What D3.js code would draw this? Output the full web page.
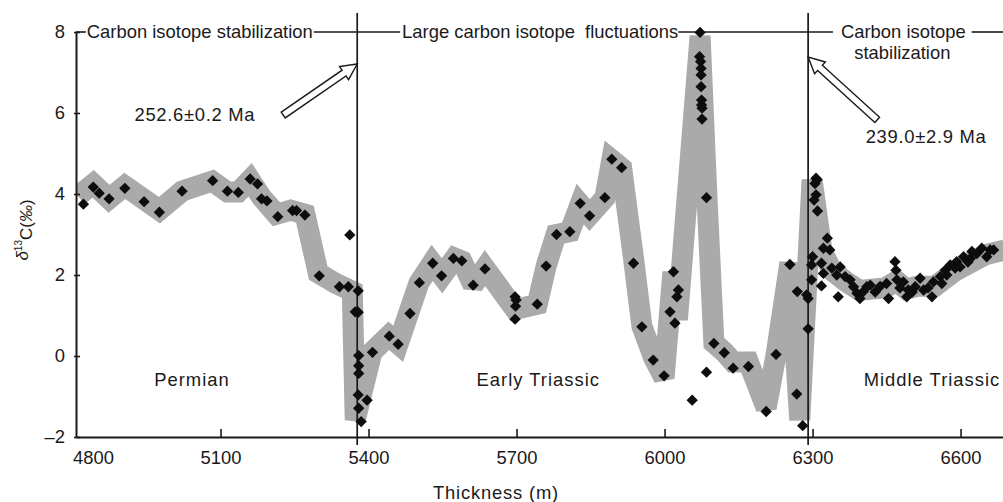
<!DOCTYPE html>
<html>
<head>
<meta charset="utf-8">
<script src="https://cdn.jsdelivr.net/npm/d3@7"></script>
<style>
body { margin: 0; background: #fff; }
svg { display: block; font-family: "Liberation Sans", Arial, sans-serif; }
</style>
</head>
<body>
<svg></svg>
<script>
var WIDTH = 1003;
var HEIGHT = 502;

// sample points: thickness (m) and d13C (permil)
var sampleDepth = [
    4822, 4842, 4854, 4874, 4906, 4945, 4976, 5022, 5084, 5114, 5136, 5160, 5175, 5183, 5194,
    5216, 5246, 5254, 5271, 5300, 5341, 5359, 5362, 5379, 5373, 5379, 5380, 5380, 5380, 5379,
    5397, 5380, 5385,
    5408, 5442, 5460, 5484, 5503, 5530, 5548, 5572, 5589, 5612, 5636, 5697, 5699, 5698, 5697,
    5742, 5760, 5781, 5808, 5829, 5848, 5879, 5893, 5913, 5937, 5954, 5977, 5999, 6011, 6018,
    6025, 6028, 6021, 6056, 6072, 6071, 6073, 6074, 6074, 6074, 6075, 6075, 6076, 6076, 6085,
    6085, 6100, 6121, 6139, 6170, 6206, 6226, 6254, 6269, 6268, 6280,
    6291, 6288, 6307, 6309, 6305, 6307, 6303, 6310, 6330, 6335, 6322, 6300, 6298, 6291, 6298,
    6318, 6322, 6318, 6339, 6349, 6356, 6352, 6366, 6376, 6383, 6390, 6396, 6403, 6410, 6417,
    6427, 6437, 6450, 6454, 6467, 6469, 6471, 6477, 6484, 6494, 6491, 6502, 6508, 6518, 6525,
    6534, 6542, 6545, 6559, 6562, 6569, 6572, 6579, 6589, 6592, 6599, 6606, 6615, 6620, 6623,
    6633, 6643, 6653, 6660, 6667
];
var sampleValue = [
    3.75, 4.17, 4.02, 3.88, 4.14, 3.81, 3.55, 4.07, 4.33, 4.07, 4.04, 4.37, 4.25, 3.88, 3.83,
    3.44, 3.59, 3.59, 3.48, 1.98, 1.71, 1.71, 2.99, 1.61, 1.09, 1.08, 0.01, -0.24, -0.43, -0.96,
    -1.09, -1.29, -1.62,
    0.09, 0.49, 0.29, 1.05, 1.81, 2.29, 1.98, 2.41, 2.35, 1.75, 2.15, 1.46, 1.38, 1.23, 0.91,
    1.28, 2.22, 3.00, 3.07, 3.77, 3.46, 3.91, 4.86, 4.65, 2.29, 0.72, -0.10, -0.49, 1.09, 2.08,
    1.46, 1.63, 0.81, -1.09, 7.99, 7.39, 7.27, 7.10, 6.94, 6.65, 6.32, 6.20, 6.12, 5.85, 3.91,
    -0.40, 0.31, 0.08, -0.30, -0.26, -1.37, 0.04, 2.26, 1.59, -0.94, -1.72,
    0.67, 1.51, 4.39, 4.35, 4.26, 3.98, 3.85, 3.58, 2.91, 2.62, 2.66, 2.45, 2.25, 1.42, 1.88,
    2.29, 2.04, 1.73, 2.17, 2.00, 2.20, 1.46, 1.96, 1.88, 1.71, 1.55, 1.42, 1.59, 1.71, 1.75,
    1.58, 1.72, 1.79, 1.42, 2.33, 2.12, 1.88, 1.68, 1.83, 1.63, 1.46, 1.58, 1.71, 1.92, 1.63,
    1.68, 1.46, 1.83, 1.96, 1.79, 2.12, 2.00, 2.25, 2.17, 2.33, 2.20, 2.45, 2.32, 2.41, 2.58,
    2.53, 2.66, 2.45, 2.62, 2.62
];

// trend band (centre line of the grey envelope)
var bandDepth = [
    4811, 4842, 4874, 4906, 4976, 5022, 5083, 5114, 5136, 5160, 5183, 5213, 5242, 5271, 5298,
    5332, 5367, 5373, 5407, 5441, 5460, 5502, 5529, 5549, 5575, 5589, 5612, 5636, 5697, 5742,
    5760, 5780, 5808, 5829, 5848, 5879, 5893, 5913, 5938, 5954, 5978, 5999, 6017, 6026, 6072,
    6086, 6100, 6121, 6139, 6170, 6206, 6226, 6254, 6274, 6299, 6319, 6340, 6366, 6395, 6420,
    6447, 6470, 6490, 6512, 6548, 6589, 6650, 6690
];
var bandValue = [
    3.95, 4.25, 3.88, 4.20, 3.60, 4.07, 4.32, 4.05, 4.05, 4.35, 3.92, 3.50, 3.60, 3.50, 2.05,
    1.80, 1.60, -1.58, 0.10, 0.50, 0.30, 1.80, 2.30, 1.98, 2.42, 2.35, 1.75, 2.17, 1.15, 1.28,
    2.22, 3.00, 3.07, 3.75, 3.48, 3.90, 4.84, 4.64, 2.32, 0.74, -0.05, -0.54, 2.07, 0.90, 7.90,
    3.90, 0.32, 0.10, -0.15, -0.15, -1.28, 0.03, 2.30, -1.58, 4.35, 2.60, 2.10, 1.85, 1.62, 1.65,
    1.68, 1.85, 1.65, 1.72, 1.72, 2.10, 2.50, 2.62
];

var xTicks = [4800, 5100, 5400, 5700, 6000, 6300, 6600];
var yTicks = [-2, 0, 2, 4, 6, 8];

var boundaryDepth = [5377, 6291];
var zoneNames = ['Permian', 'Early Triassic', 'Middle Triassic'];
var zoneDepth = [5042, 5744, 6542];
var zoneValue = -0.57;

var ageLabels = ['252.6\u00b10.2 Ma', '239.0\u00b12.9 Ma'];
var ageDepth = [5048, 6530];
var ageValue = [5.95, 5.41];
var arrowTailDepth = [5227, 6431];
var arrowTailValue = [5.95, 5.83];
var arrowTipValue = [7.21, 7.38];

var xScale = d3.scaleLinear().domain([4807, 6686]).range([76, 1003]);
var yScale = d3.scaleLinear().domain([-2, 8]).range([437, 32]);

var svg = d3.select('svg')
    .attr('width', WIDTH)
    .attr('height', HEIGHT);

var ink = '#1a1a1a';

svg.append('clipPath').attr('id', 'plot-clip')
    .append('rect')
    .attr('x', xScale(4807))
    .attr('y', 0)
    .attr('width', WIDTH - xScale(4807))
    .attr('height', yScale(-2));

// grey envelope
var bandPoints = bandDepth.map(function(d, i){ return [d, bandValue[i]]; });
var bandLine = d3.line()
    .x(function(datum){ return xScale(datum[0]); })
    .y(function(datum){ return yScale(datum[1]); });
svg.append('path')
    .attr('d', bandLine(bandPoints))
    .attr('clip-path', 'url(#plot-clip)')
    .attr('fill', 'none')
    .attr('stroke', '#aaaaaa')
    .attr('stroke-width', 21)
    .attr('stroke-linejoin', 'miter')
    .attr('stroke-miterlimit', 2);

// boundary lines
svg.selectAll('line.boundary')
    .data(boundaryDepth)
    .enter()
    .append('line')
    .attr('class', 'boundary')
    .attr('x1', function(d){ return xScale(d); })
    .attr('x2', function(d){ return xScale(d); })
    .attr('y1', yScale(8.47))
    .attr('y2', yScale(-2.2))
    .attr('stroke', ink)
    .attr('stroke-width', 1.7);

// axes
var bottomAxis = d3.axisBottom(xScale)
    .tickValues(xTicks)
    .tickFormat(d3.format('d'))
    .tickSizeInner(-8)
    .tickSizeOuter(0)
    .tickPadding(14);
var gx = svg.append('g')
    .attr('transform', 'translate(0,' + yScale(-2) + ')')
    .call(bottomAxis);
gx.selectAll('.tick').filter(function(d){ return d === 4800; })
    .select('line').remove();
gx.selectAll('.tick').filter(function(d){ return d === 4800; })
    .select('text').attr('text-anchor', 'start');

var leftAxis = d3.axisLeft(yScale)
    .tickValues(yTicks)
    .tickFormat(function(d){ return d < 0 ? '\u2013' + Math.abs(d) : d; })
    .tickSizeInner(2)
    .tickSizeOuter(0)
    .tickPadding(9);
var gy = svg.append('g')
    .attr('transform', 'translate(' + xScale(4807) + ',0)')
    .call(leftAxis);
gy.selectAll('.tick line').attr('x1', 4);

svg.selectAll('.domain').attr('stroke', ink).attr('stroke-width', 2);
svg.selectAll('.tick line').attr('stroke', ink).attr('stroke-width', 1.6);
svg.selectAll('.tick text')
    .attr('fill', ink)
    .style('font-size', '18.4px')
    .style('font-family', '"Liberation Sans", Arial, sans-serif');

// zone names
svg.selectAll('text.zone')
    .data(zoneNames)
    .enter()
    .append('text')
    .attr('class', 'zone')
    .attr('x', function(d, i){ return xScale(zoneDepth[i]); })
    .attr('y', yScale(zoneValue))
    .attr('dy', '0.35em')
    .attr('text-anchor', 'middle')
    .style('font-size', '18.4px')
    .style('letter-spacing', '1px')
    .attr('fill', ink)
    .text(function(d){ return d; });

// age labels and arrows
svg.selectAll('text.age')
    .data(ageLabels)
    .enter()
    .append('text')
    .attr('class', 'age')
    .attr('x', function(d, i){ return xScale(ageDepth[i]); })
    .attr('y', function(d, i){ return yScale(ageValue[i]); })
    .attr('dy', '0.35em')
    .attr('text-anchor', 'middle')
    .style('font-size', '18.4px')
    .style('letter-spacing', '0.7px')
    .attr('fill', ink)
    .text(function(d){ return d; });

svg.selectAll('path.arrow')
    .data(boundaryDepth)
    .enter()
    .append('path')
    .attr('class', 'arrow')
    .attr('d', function(d, i){
        var x0 = xScale(arrowTailDepth[i]), y0 = yScale(arrowTailValue[i]);
        var x1 = xScale(d), y1 = yScale(arrowTipValue[i]);
        var len = Math.sqrt((x1 - x0) * (x1 - x0) + (y1 - y0) * (y1 - y0));
        var ang = Math.atan2(y1 - y0, x1 - x0);
        var pts = [[0, -3.5], [len - 16, -3.5], [len - 16, -8], [len, 0], [len - 16, 8], [len - 16, 3.5], [0, 3.5]];
        return 'M' + pts.map(function(p){
            return [x0 + p[0] * Math.cos(ang) - p[1] * Math.sin(ang),
                    y0 + p[0] * Math.sin(ang) + p[1] * Math.cos(ang)].join(',');
        }).join('L') + 'Z';
    })
    .attr('fill', '#fff')
    .attr('stroke', ink)
    .attr('stroke-width', 1.4)
    .attr('stroke-linejoin', 'miter');

// top line with stage captions
var topY = yScale(8);
var topTexts = [
    {text: 'Carbon isotope stabilization', x: xScale(4829), anchor: 'start', gapL: 1, gapR: 1},
    {text: 'Large carbon isotope \u00a0fluctuations', x: xScale(5468), anchor: 'start', gapL: 2, gapR: 0},
    {text: 'Carbon isotope', x: xScale(6484), anchor: 'middle', gapL: 8, gapR: 6}
];
var edges = [xScale(4807)];
topTexts.forEach(function(t){
    var node = svg.append('text')
        .attr('x', t.x)
        .attr('y', topY)
        .attr('dy', '0.35em')
        .attr('text-anchor', t.anchor)
        .style('font-size', '18.4px')
        .attr('fill', ink)
        .text(t.text);
    var box = node.node().getBBox();
    edges.push(box.x - t.gapL, box.x + box.width + t.gapR);
});
edges.push(WIDTH);
for (var k = 0; k < edges.length; k += 2) {
    svg.append('line')
        .attr('x1', edges[k]).attr('x2', edges[k + 1])
        .attr('y1', topY).attr('y2', topY)
        .attr('stroke', ink)
        .attr('stroke-width', 1.6);
}
svg.append('text')
    .attr('x', xScale(6482))
    .attr('y', yScale(7.5))
    .attr('dy', '0.35em')
    .attr('text-anchor', 'middle')
    .style('font-size', '18.4px')
    .attr('fill', ink)
    .text('stabilization');

// samples drawn last so they sit over every line
svg.selectAll('path.sample')
    .data(sampleDepth)
    .enter()
    .append('path')
    .attr('class', 'sample')
    .attr('d', d3.symbol().type(d3.symbolSquare).size(64))
    .attr('transform', function(d, i){
        return 'translate(' + xScale(d) + ',' + yScale(sampleValue[i]) + ') rotate(45)';
    })
    .attr('fill', '#0d0d0d');

// axis titles
svg.append('text')
    .attr('x', 496)
    .attr('y', 493)
    .attr('dy', '0.35em')
    .attr('text-anchor', 'middle')
    .style('font-size', '18.4px')
    .style('letter-spacing', '0.8px')
    .attr('fill', ink)
    .text('Thickness (m)');

var ylab = svg.append('text')
    .attr('transform', 'translate(28,230) rotate(-90)')
    .attr('text-anchor', 'middle')
    .style('font-size', '17px')
    .attr('fill', ink);
ylab.append('tspan').style('font-style', 'italic').text('\u03b4');
ylab.append('tspan').attr('dy', '-0.6em').style('font-size', '10px').text('13');
ylab.append('tspan').attr('dy', '0.6em').text('C(');
ylab.append('tspan').style('font-style', 'italic').text('\u2030');
ylab.append('tspan').text(')');
</script>
</body>
</html>
